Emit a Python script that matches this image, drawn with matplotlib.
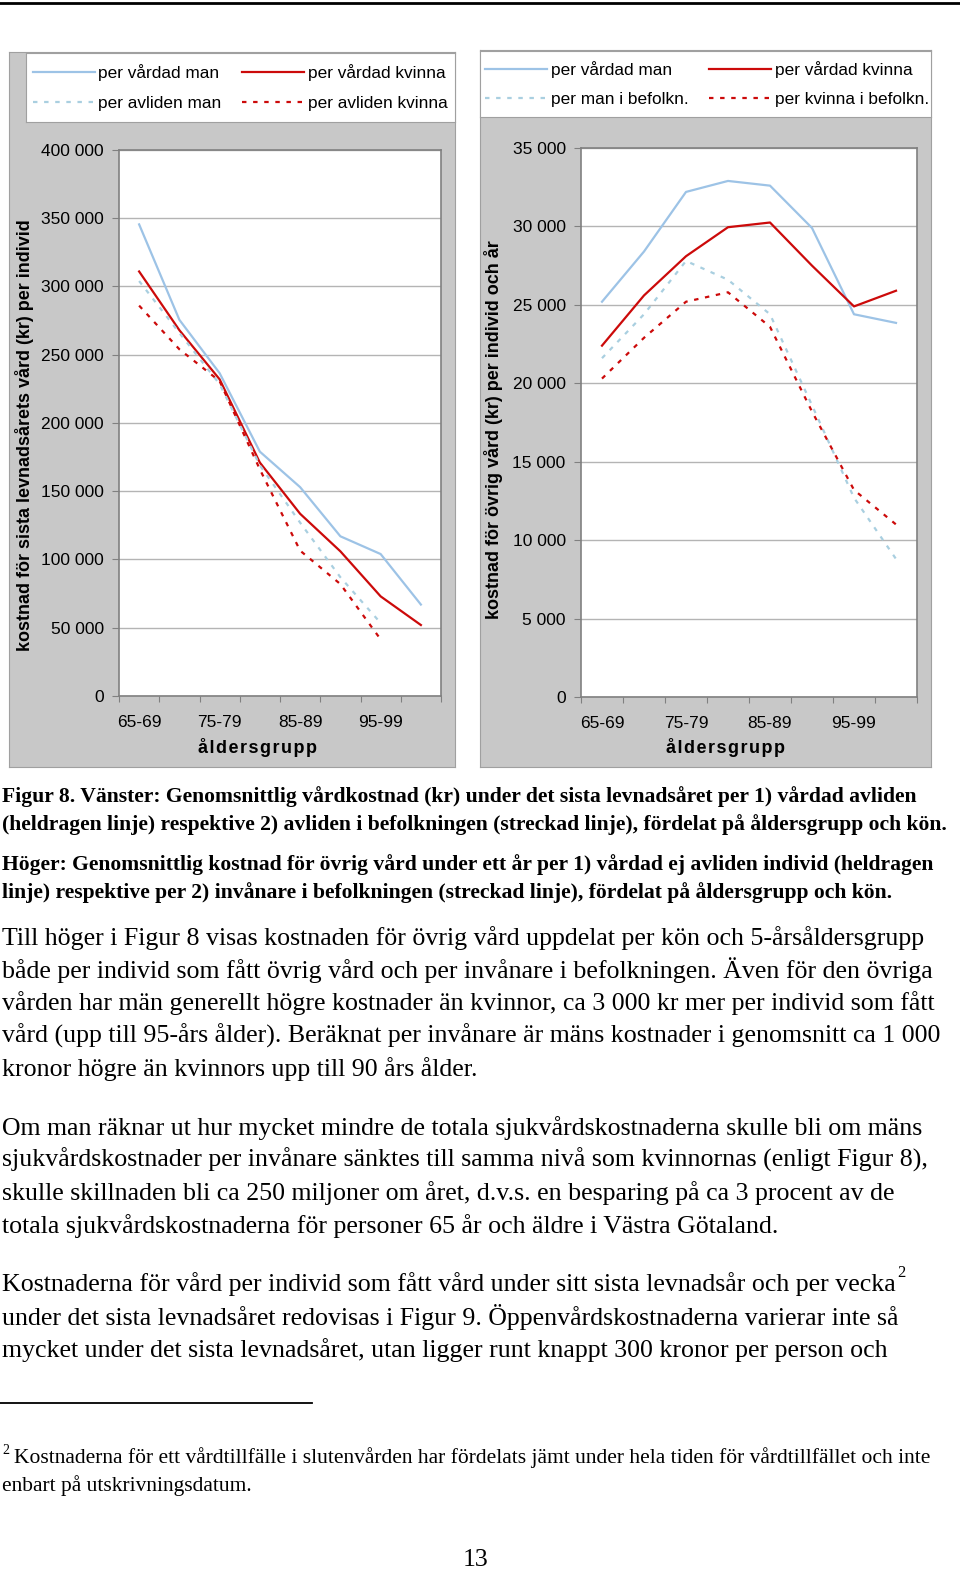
import numpy as np
import matplotlib.pyplot as plt
from matplotlib.ticker import FuncFormatter
from matplotlib.lines import Line2D

# Åldersgrupper (8 st, etikett på varannan)
ages = ['65-69', '70-74', '75-79', '80-84', '85-89', '90-94', '95-99', '100-']

# Vänster: kostnad sista levnadsåret (kr)
man_vardad = [345500, 275600, 236500, 179000, 153000, 117000, 104000, 67000]
kv_vardad = [311000, 268000, 232000, 171000, 133500, 106000, 73000, 52000]
man_avliden = [304000, 266000, 228500, 169000, 127000, 87000, 53500]
kv_avliden = [286000, 254000, 230700, 166000, 106500, 82000, 41500]

# Höger: kostnad övrig vård per år (kr)
man_vardad_r = [25200, 28400, 32200, 32900, 32600, 29900, 24400, 23850]
kv_vardad_r = [22400, 25600, 28100, 29950, 30250, 27500, 24900, 25900]
man_bef = [21600, 24400, 27800, 26600, 24400, 18600, 12700, 8800]
kv_bef = [20300, 22900, 25200, 25800, 23600, 18200, 13200, 11000]

W, H = 960, 1571
BLUE = '#9dc3e6'
BLUE_D = '#a9cfe0'
RED = '#cc0a0a'
GRAY = '#c8c8c8'
SANS = ['Liberation Sans', 'DejaVu Sans']
SERIF = ['Liberation Serif', 'DejaVu Serif']

fig = plt.figure(figsize=(9.6, 15.71), dpi=100)


def rect(x0, y0, x1, y1):
    return [x0 / W, 1 - y1 / H, (x1 - x0) / W, (y1 - y0) / H]


def put(x, y, s, **kw):
    return fig.text(x / W, 1 - y / H, s, **kw)


def tusen(v, pos):
    return f'{int(v):,}'.replace(',', ' ')


def panel(box):
    p = fig.add_axes(rect(*box))
    p.set_facecolor(GRAY)
    p.set_xticks([])
    p.set_yticks([])
    for s in p.spines.values():
        s.set_color('#a0a0a0')
    return p


def chart(box, series, ymax, ystep, ylabel, ylab_x, ylab_y, xlab_x, legbox, leg_x):
    ax = fig.add_axes(rect(*box))
    x = np.arange(len(ages))
    handles = []
    labels = []
    for vals, col, ls, lw, lab in series:
        h, = ax.plot(x[:len(vals)], vals, color=col, linestyle=ls, linewidth=lw)
        handles.append(h)
        labels.append(lab)
    ax.set_xlim(-0.5, len(ages) - 0.5)
    ax.set_ylim(0, ymax)
    ax.set_yticks(np.arange(0, ymax + 1, ystep))
    ax.yaxis.set_major_formatter(FuncFormatter(tusen))
    ax.grid(axis='y', color='#b4b4b4', linewidth=1.0)
    ax.set_axisbelow(True)
    ax.set_xticks(np.arange(-0.5, len(ages), 1))
    ax.set_xticklabels([])
    ax.set_xticks(x[::2], minor=True)
    ax.set_xticklabels(ages[::2], minor=True, fontsize=12.5, family=SANS)
    ax.tick_params(axis='x', which='major', length=4, direction='out', color='#808080')
    ax.tick_params(axis='x', which='minor', length=0, pad=14)
    ax.tick_params(axis='y', length=5, direction='out', color='#808080', pad=6,
                   labelsize=12.5)
    for lab in ax.get_yticklabels():
        lab.set_family(SANS)
    for s in ax.spines.values():
        s.set_color('#808080')
        s.set_linewidth(1.2)
    put(xlab_x, 748, 'å l d e r s g r u p p'.replace(' ', '\u200a'), ha='center', va='center',
        fontsize=13, fontweight='bold', family=SANS)
    put(ylab_x, ylab_y, ylabel, rotation=90, ha='center', va='center',
        fontsize=13, fontweight='bold', family=SANS)

    lax = fig.add_axes(rect(*legbox))
    lax.set_xticks([])
    lax.set_yticks([])
    for s in lax.spines.values():
        s.set_color('#a0a0a0')
    order = [0, 2, 1, 3]
    lax.legend([handles[i] for i in order], [labels[i] for i in order],
               ncol=2, loc='center left', bbox_to_anchor=(leg_x, 0.5),
               frameon=False, handlelength=3.6,
               handletextpad=0.2, columnspacing=1.2, labelspacing=0.85,
               prop={'family': SANS, 'size': 12.4}, borderaxespad=0.0,
               borderpad=0.1)
    return ax


# övre linjen på sidan
fig.add_artist(Line2D([0, 1], [1 - 3 / H, 1 - 3 / H], color='black', linewidth=2))

# vänster diagram
panel((9, 52, 455, 767))
chart((119, 150, 441, 696),
      [(man_vardad, BLUE, '-', 1.6, 'per vårdad man'),
       (kv_vardad, RED, '-', 1.6, 'per vårdad kvinna'),
       (man_avliden, BLUE_D, (0, (2, 3)), 1.6, 'per avliden man'),
       (kv_avliden, RED, (0, (2, 3)), 1.6, 'per avliden kvinna')],
      400000, 50000, 'kostnad för sista levnadsårets vård (kr) per individ', 25, 435, 258,
      (26, 53, 455, 122), 0.012)

# höger diagram
panel((480, 50, 931, 767))
chart((581, 148, 917, 697),
      [(man_vardad_r, BLUE, '-', 1.6, 'per vårdad man'),
       (kv_vardad_r, RED, '-', 1.6, 'per vårdad kvinna'),
       (man_bef, BLUE_D, (0, (2, 3)), 1.6, 'per man i befolkn.'),
       (kv_bef, RED, (0, (2, 3)), 1.6, 'per kvinna i befolkn.')],
      35000, 5000, 'kostnad för övrig vård (kr) per individ och år', 494, 430, 725,
      (480, 51, 931, 117), 0.008)

# figurtext
caption = [
    'Figur 8. Vänster: Genomsnittlig vårdkostnad (kr) under det sista levnadsåret per 1) vårdad avliden',
    '(heldragen linje) respektive 2) avliden i befolkningen (streckad linje), fördelat på åldersgrupp och kön.',
    'Höger: Genomsnittlig kostnad för övrig vård under ett år per 1) vårdad ej avliden individ (heldragen',
    'linje) respektive per 2) invånare i befolkningen (streckad linje), fördelat på åldersgrupp och kön.',
]
caption_y = [797, 825, 865, 893]
for s, y in zip(caption, caption_y):
    put(2, y, s, ha='left', va='center', fontsize=15.6, fontweight='bold', family=SERIF)

body = [
    'Till höger i Figur 8 visas kostnaden för övrig vård uppdelat per kön och 5-årsåldersgrupp',
    'både per individ som fått övrig vård och per invånare i befolkningen. Även för den övriga',
    'vården har män generellt högre kostnader än kvinnor, ca 3 000 kr mer per individ som fått',
    'vård (upp till 95-års ålder). Beräknat per invånare är mäns kostnader i genomsnitt ca 1 000',
    'kronor högre än kvinnors upp till 90 års ålder.',
    'Om man räknar ut hur mycket mindre de totala sjukvårdskostnaderna skulle bli om mäns',
    'sjukvårdskostnader per invånare sänktes till samma nivå som kvinnornas (enligt Figur 8),',
    'skulle skillnaden bli ca 250 miljoner om året, d.v.s. en besparing på ca 3 procent av de',
    'totala sjukvårdskostnaderna för personer 65 år och äldre i Västra Götaland.',
    'Kostnaderna för vård per individ som fått vård under sitt sista levnadsår och per vecka',
    'under det sista levnadsåret redovisas i Figur 9. Öppenvårdskostnaderna varierar inte så',
    'mycket under det sista levnadsåret, utan ligger runt knappt 300 kronor per person och',
]
body_y = [938, 970, 1003, 1036, 1069, 1128, 1160, 1193, 1226, 1284, 1317, 1350]
txts = []
for s, y in zip(body, body_y):
    txts.append(put(2, y, s, ha='left', va='center', fontsize=18.6, family=SERIF))

# fotnotsmarkering efter "vecka"
r = fig.canvas.get_renderer()
bb = txts[9].get_window_extent(renderer=r)
fig.text((bb.x1 + 1) / W, 1 - 1273 / H, '2', ha='left', va='center', fontsize=12, family=SERIF)

# fotnot
fig.add_artist(Line2D([0, 312 / W], [1 - 1403 / H, 1 - 1403 / H], color='black', linewidth=1.3))
put(2, 1451, '2', ha='left', va='center', fontsize=10, family=SERIF)
put(14, 1458, 'Kostnaderna för ett vårdtillfälle i slutenvården har fördelats jämt under hela tiden för vårdtillfället och inte',
    ha='left', va='center', fontsize=15.5, family=SERIF)
put(2, 1486, 'enbart på utskrivningsdatum.', ha='left', va='center', fontsize=15.5, family=SERIF)

# sidnummer
put(476, 1560, '13', ha='center', va='center', fontsize=18.5, family=SERIF)

fig.savefig('out.png', dpi=100)
